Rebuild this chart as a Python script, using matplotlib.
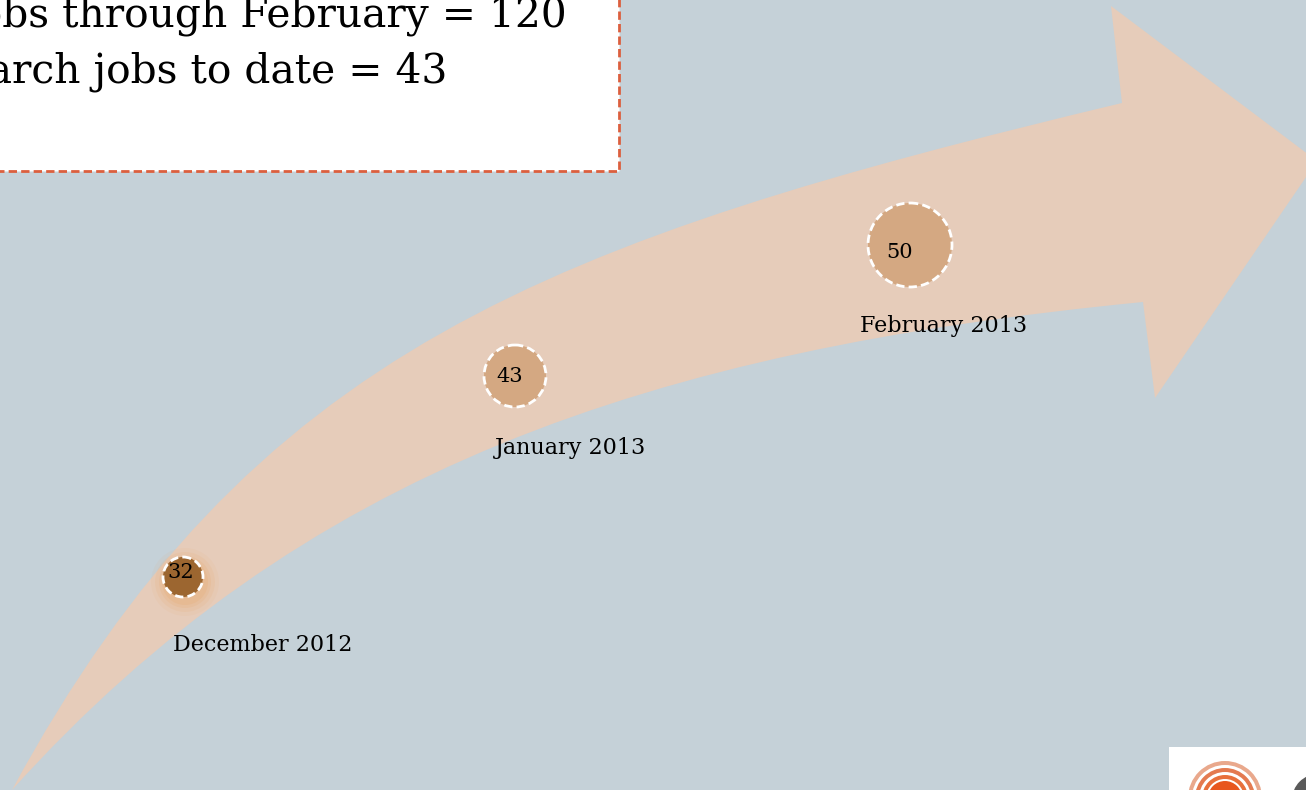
import matplotlib.pyplot as plt
from matplotlib.path import Path
from matplotlib.patches import PathPatch, Circle, Rectangle

# data
months = ['December 2012', 'January 2013', 'February 2013']
jobs = [32, 43, 50]
summary = ['Total jobs through February = 120', 'March jobs to date = 43']

# layout (pixel coords, y down)
W, H = 1306, 790
centers = [(183, 577), (515, 376), (910, 245)]
radii = [20, 31, 42]
num_pos = [(181, 573), (510, 376), (900, 252)]
lab_pos = [(173, 645), (495, 448), (860, 326)]
circle_cols = ['#9C6630', '#D4A882', '#D4A882']

BG = '#C5D1D8'
ARROW = '#E6CCBA'

fig = plt.figure(figsize=(W / 100, H / 100), dpi=100)
fig.patch.set_facecolor(BG)
ax = fig.add_axes([0, 0, 1, 1])
ax.set_xlim(0, W); ax.set_ylim(H, 0)
ax.axis('off')
ax.set_facecolor(BG)

# curved arrow
verts = [(12, 790),
         (250, 350), (550, 240), (1122, 103),
         (1111, 6), (1317, 161), (1155, 398), (1143, 302),
         (650, 350), (300, 470), (12, 790)]
codes = [Path.MOVETO,
         Path.CURVE4, Path.CURVE4, Path.CURVE4,
         Path.LINETO, Path.LINETO, Path.LINETO, Path.LINETO,
         Path.CURVE4, Path.CURVE4, Path.CURVE4]
ax.add_patch(PathPatch(Path(verts, codes), facecolor=ARROW, edgecolor='none', zorder=1))

# summary box (cut off at the top-left, as on the slide)
ax.add_patch(Rectangle((-10, -10), 629, 181, facecolor='white', edgecolor='#DC5F3E',
                       linewidth=2, linestyle=(0, (3, 1.5)), zorder=2))
ax.text(567, 27, summary[0], ha='right', va='baseline', fontsize=29.3,
        family='DejaVu Serif', zorder=3)
ax.text(447, 83, summary[1], ha='right', va='baseline', fontsize=29.3,
        family='DejaVu Serif', zorder=3)

# glow under first bubble
for k, a in zip([14, 10, 6, 3], [0.08, 0.12, 0.16, 0.2]):
    ax.add_patch(Circle((centers[0][0] + 2, centers[0][1] + 5), radii[0] + k,
                        facecolor='#E8A868', edgecolor='none', alpha=a, zorder=3))

for (cx, cy), r, c, v, (tx, ty), m, (lx, ly) in zip(centers, radii, circle_cols, jobs,
                                                      num_pos, months, lab_pos):
    ax.add_patch(Circle((cx, cy), r, facecolor=c, edgecolor='white', linewidth=2,
                        linestyle=(0, (3, 1.5)), zorder=4))
    ax.text(tx, ty, str(v), ha='center', va='center', fontsize=15,
            family='DejaVu Serif', zorder=5)
    ax.text(lx, ly, m, ha='left', va='center', fontsize=16,
            family='DejaVu Serif', zorder=5)

# logo corner
ax.add_patch(Rectangle((1169, 747), 140, 60, facecolor='white', edgecolor='none', zorder=2))
for r, c in [(37, '#E9A88C'), (33, 'white'), (30, '#E47A50'), (26, 'white'),
             (23, '#E8703C'), (19, 'white'), (17, '#E8561E')]:
    ax.add_patch(Circle((1225, 798), r, facecolor=c, edgecolor='none', zorder=3))
ax.add_patch(Circle((1318, 800), 26, facecolor='#5A5A5A', edgecolor='none', zorder=3))

fig.savefig('out.png', dpi=100, facecolor=BG)
